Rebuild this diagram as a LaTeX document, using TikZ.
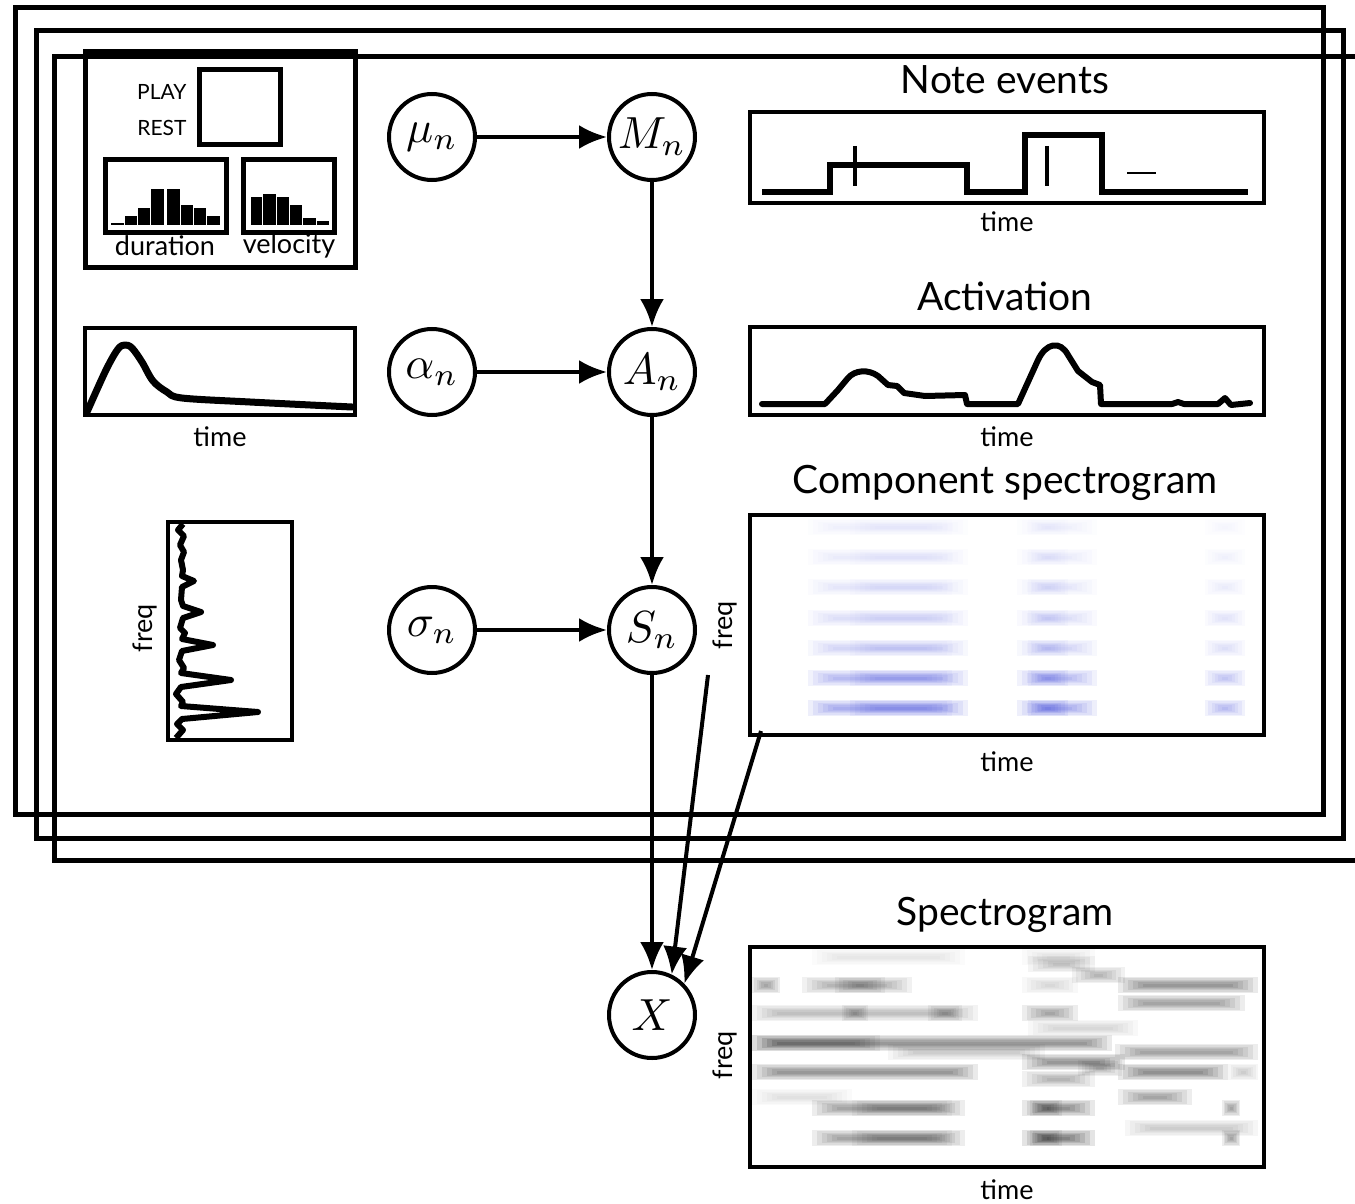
\documentclass[tikz,border=0pt]{standalone}
\usepackage{fontspec}
\usepackage{graphicx}
\setmainfont{Lato}
\usetikzlibrary{arrows.meta}
\definecolor{specblue}{RGB}{35,45,210}
\newcommand\specstripe[5]{%
  \pgfmathsetmacro\sdx{min(5,(#2-#1)/12)}%
  \foreach \k in {0,1,2,3,4,5}{%
    \fill[#5,fill opacity=#4*0.7] ({#1+\k*\sdx},{#3-8+\k*1.3}) rectangle ({#2-\k*\sdx},{#3+8-\k*1.3});}}
\newcommand\mlab[1]{\scalebox{4.5}{$#1$}}
\tikzset{
  frame/.style={draw, line width=5pt},
  box/.style={draw, line width=4.5pt},
  var/.style={circle, draw, line width=4pt, minimum size=86pt, inner sep=0pt},
  arr/.style={-{Latex[length=28pt,width=24pt]}, line width=4pt},
  ttl/.style={font=\fontsize{39}{44}\selectfont},
  lbl/.style={font=\fontsize{27}{30}\selectfont},
  slbl/.style={font=\fontsize{21}{24}\selectfont},
  curve/.style={line width=6pt, line join=round, line cap=round}
}
\begin{document}
\begin{tikzpicture}[x=1pt,y=-1pt]
\useasboundingbox (0,0) rectangle (1355,1204);
% plates
\draw[frame] (15,8) rectangle (1323,814);
\draw[frame] (36,31) rectangle (1343,838);
\draw[frame] (1355,57) -- (54,57) -- (54,860) -- (1355,860);

% top-left parameter box
\draw[box, line width=5pt] (85,52) rectangle (355,267);
\draw[box, line width=5pt] (199,70) rectangle (280,145);
\node[slbl, anchor=east] (play) at (190,92) {PLAY};
\node[slbl, anchor=east] (rest) at (190,128) {REST};
% duration histogram
\foreach \a/\b/\t in {110.7/124/222, 124/137.3/215, 137.3/150.7/207.3, 150.7/164/188.3, 166.7/180/188.3, 180/193.3/204.3, 193.3/206.7/207.3, 206.7/220/215}
  \filldraw[fill=black, draw=white, line width=0.7pt] (\a,225) rectangle (\b,\t);
\draw[box, line width=5pt] (105,160) rectangle (226,232);
% velocity histogram
\foreach \a/\b/\t in {250/262.7/196.7, 262.7/276/193.3, 276/289.3/196.7, 289.3/302.7/204.3, 302.7/316/217.7, 316/329.3/220}
  \filldraw[fill=black, draw=white, line width=0.7pt] (\a,225) rectangle (\b,\t);
\draw[box, line width=5pt] (243,160) rectangle (334,232);
\node[lbl] (dur) at (165,246) {duration};
\node[lbl] (vel) at (289,246) {velocity};

% envelope box
\draw[box] (85,328) rectangle (355,415);
\draw[curve, line width=7pt] plot[smooth, tension=0.55] coordinates {(87,412) (106,370) (118,349) (125,345) (132,348) (142,362) (153,381) (167,392) (182,398) (250,402) (352,407)};
\node[lbl] (t0) at (220,437) {time};

% spectrum box
\draw[box] (168,522) rectangle (292,740);
\draw[line width=6pt, line join=round] (183,524) -- (178,530) -- (184,536) -- (180,545) -- (184,552) -- (181,560) -- (183,570) -- (182,576) -- (194,581) -- (182,587) -- (181,600) -- (183,606) -- (201,612) -- (183,618) -- (180,628) -- (185,633) -- (182,639) -- (213,645) -- (182,651) -- (179,660) -- (184,668) -- (181,673) -- (231,680) -- (181,687) -- (176,694) -- (183,702) -- (181,706) -- (258,712) -- (182,719) -- (177,724) -- (183,730) -- (176,738);
\node[lbl, rotate=90] (f0) at (145,628) {freq};

% graphical model
\node[var] (mu) at (432,137) {\mlab{\mu_n}};
\node[var] (M) at (652,137) {\mlab{M_n}};
\node[var] (al) at (432,372) {\mlab{\alpha_n}};
\node[var] (A) at (652,372) {\mlab{A_n}};
\node[var] (sg) at (432,630) {\mlab{\sigma_n}};
\node[var] (S) at (652,630) {\mlab{S_n}};
\node[var] (X) at (652,1015) {\mlab{X}};
\draw[arr] (mu) -- (M);
\draw[arr] (al) -- (A);
\draw[arr] (sg) -- (S);
\draw[arr] (M) -- (A);
\draw[arr] (A) -- (S);
\draw[arr] (S) -- (X);
\coordinate (c1) at (708,675);
\coordinate (c2) at (761,731);
\draw[arr] (c1) -- (X.64);
\draw[arr] (c2) -- (X.44);

% note events
\node[ttl] (ne) at (1005,80) {Note events};
\draw[box] (750,112) rectangle (1264,203);
\draw[curve, line cap=butt, line join=miter] (762,192) -- (830,192) -- (830,165) -- (967,165) -- (967,192) -- (1025,192) -- (1025,135) -- (1102,135) -- (1102,192) -- (1248,192);
\draw[line width=4pt] (855,146) -- (855,186);
\draw[line width=4pt] (1047,146) -- (1047,186);
\draw[line width=2pt] (1127,173) -- (1156,173);
\node[lbl] (t1) at (1007,222) {time};

% activation
\node[ttl] (act) at (1005,296) {Activation};
\draw[box] (750,327) rectangle (1264,415);
\draw[curve] (762,404) -- (825,404) -- (838,390) -- (848,378) .. controls (855,370) and (868,369) .. (878,376) -- (888,385) -- (897,386) -- (904,393) -- (925,396) -- (965,395) -- (967,404) -- (1018,404) -- (1038,360) .. controls (1046,343) and (1060,340) .. (1068,355) -- (1078,371) -- (1092,382) -- (1100,385) -- (1101,404) -- (1172,404) -- (1178,402) -- (1184,404) -- (1218,404) -- (1225,398) -- (1231,405) -- (1250,403);
\node[lbl] (t2) at (1007,437) {time};

% component spectrogram
\node[ttl] (cs) at (1005,483) {Component spectrogram};
\foreach \y/\a in {527/0.015, 557/0.02, 587/0.03, 618/0.04, 648/0.05, 678/0.09, 708/0.11}{
  \specstripe{808}{968}{\y}{\a}{specblue}
  \specstripe{850}{952}{\y}{\a*0.6}{specblue}
  \specstripe{1017}{1097}{\y}{\a}{specblue}
  \specstripe{1028}{1068}{\y}{\a*0.9}{specblue}
  \specstripe{1205}{1245}{\y}{\a*0.8}{specblue}
}
\draw[box] (750,515) rectangle (1264,735);
\node[lbl, rotate=90] (f1) at (725,625) {freq};
\node[lbl] (t3) at (1007,762) {time};

% spectrogram
\node[ttl] (sp) at (1005,915) {Spectrogram};
\foreach \a/\b/\y/\o in {812/965/957/0.02, 1022/1095/957/0.03, 1028/1095/964/0.06, 1072/1125/975/0.08,
  752/780/985/0.1, 802/912/985/0.08, 835/885/985/0.08, 1022/1078/985/0.04, 1118/1258/985/0.12,
  1118/1245/1003/0.1,
  752/978/1013/0.07, 842/868/1013/0.08, 928/962/1013/0.08, 1022/1078/1013/0.1,
  1028/1138/1028/0.04,
  752/1112/1043/0.12, 752/880/1043/0.08,
  888/1045/1052/0.05, 1115/1258/1052/0.1,
  1022/1125/1062/0.12, 1078/1122/1068/0.08,
  752/978/1072/0.12, 1118/1228/1072/0.13, 1228/1258/1072/0.05,
  1022/1095/1079/0.08,
  1118/1192/1097/0.1, 752/852/1097/0.03,
  812/965/1108/0.1, 852/952/1108/0.07, 1022/1095/1108/0.13, 1030/1062/1108/0.1, 1222/1240/1108/0.1,
  1125/1258/1128/0.05,
  812/965/1138/0.1, 852/952/1138/0.07, 1022/1095/1138/0.15, 1030/1062/1138/0.1, 1222/1240/1138/0.1}
  \specstripe{\a}{\b}{\y}{\o}{black};
\draw[box] (750,947) rectangle (1264,1167);
\node[lbl, rotate=90] (f2) at (725,1055) {freq};
\node[lbl] (t4) at (1007,1190) {time};
\end{tikzpicture}
\end{document}
